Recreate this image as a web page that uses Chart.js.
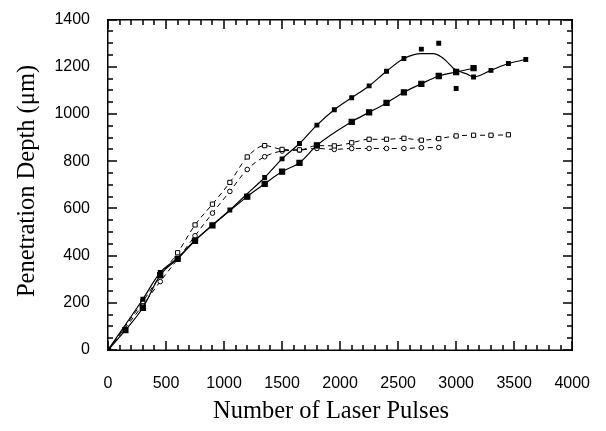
<!DOCTYPE html>
<html><head><meta charset="utf-8">
<script src="https://cdn.jsdelivr.net/npm/chart.js@4"></script>
<style>html,body{margin:0;padding:0;background:#fff}#wrap{width:606px;height:431px;position:relative}</style>
</head><body><div id="wrap"><canvas id="c" width="606" height="431"></canvas></div>
<script>
// ---- text ----
const xTitle = 'Number of Laser Pulses';
const yTitle = 'Penetration Depth (μm)';
// ---- tick labels ----
const xTickValues = [0, 500, 1000, 1500, 2000, 2500, 3000, 3500, 4000];
const yTickValues = [0, 200, 400, 600, 800, 1000, 1200, 1400];
// minor tick mark steps (axis units)
const xMinorStep = 100;
const yMinorStep = 50;

// ---- series A: solid line, small filled squares (measured points) ----
const upperX = [0, 300, 450, 1050, 1350, 1500, 1650, 1800, 1950, 2100, 2250, 2400, 2550, 2700, 2850, 3000, 3150, 3300, 3450, 3600];
const upperY = [0, 215, 329, 593, 731, 810, 875, 953, 1018, 1069, 1119, 1181, 1235, 1275, 1300, 1108, 1157, 1185, 1214, 1231];
// fitted curve through series A as traced in the picture
const upperFitX = [0, 300, 450, 600, 750, 900, 1050, 1200, 1350, 1500, 1650, 1800, 1950, 2100, 2250, 2400, 2550, 2700, 2800, 2870, 2920, 2975, 3030, 3090, 3150, 3300, 3450, 3600];
const upperFitY = [0, 215, 329, 390, 465, 530, 593, 662, 731, 810, 875, 953, 1018, 1069, 1119, 1181, 1235, 1256, 1256, 1243, 1222, 1194, 1180, 1170, 1157, 1185, 1214, 1231];

// ---- series B: solid line, large filled squares ----
const lowerX = [0, 150, 300, 450, 600, 750, 900, 1200, 1350, 1500, 1650, 1800, 2100, 2250, 2400, 2550, 2700, 2850, 3000, 3150];
const lowerY = [0, 84, 179, 317, 386, 463, 528, 650, 704, 756, 793, 867, 967, 1007, 1047, 1092, 1128, 1161, 1178, 1194];

// ---- series C: dashed line, open squares ----
const dashSqX = [0, 300, 450, 600, 750, 900, 1050, 1200, 1350, 1500, 1650, 1800, 1950, 2100, 2250, 2400, 2550, 2700, 2850, 3000, 3150, 3300, 3450];
const dashSqY = [0, 205, 315, 412, 530, 618, 710, 818, 866, 850, 848, 866, 865, 878, 893, 893, 897, 889, 896, 907, 910, 910, 912];

// ---- series D: dashed line, open circles ----
const dashCiX = [0, 300, 450, 600, 750, 900, 1050, 1200, 1350, 1500, 1650, 1800, 1950, 2100, 2250, 2400, 2550, 2700, 2850];
const dashCiY = [0, 190, 290, 385, 484, 580, 672, 765, 819, 843, 847, 854, 850, 854, 854, 854, 854, 857, 858];

const pts = (xs, ys) => xs.map((x, i) => ({x: x, y: ys[i]}));

const frame = {
  id: 'frame',
  afterDraw(chart) {
    const ctx = chart.ctx, a = chart.chartArea;
    const xs = chart.scales.x, ys = chart.scales.y;
    const l = Math.round(a.left), r = Math.round(a.right), t = Math.round(a.top), b = Math.round(a.bottom);
    ctx.save();
    ctx.setLineDash([]);
    ctx.fillStyle = '#000';
    // frame
    ctx.fillRect(l - 1, t - 1, r - l + 2, 1.5);
    ctx.fillRect(l - 1, b - 0.5, r - l + 2, 1.5);
    ctx.fillRect(l - 1, t - 1, 1.5, b - t + 2);
    ctx.fillRect(r - 0.5, t - 1, 1.5, b - t + 2);
    // inward tick marks on all four sides
    for (let v = 0; v <= 4000; v += xMinorStep) {
      const px = Math.round(xs.getPixelForValue(v));
      const len = (v % 500 === 0) ? 9 : 5;
      ctx.fillRect(px - 0.75, b - len, 1.5, len);
      ctx.fillRect(px - 0.75, t, 1.5, len);
    }
    for (let v = 0; v <= 1400; v += yMinorStep) {
      const py = Math.round(ys.getPixelForValue(v));
      const len = (v % 200 === 0) ? 9 : 5;
      ctx.fillRect(l, py - 0.75, len, 1.5);
      ctx.fillRect(r - len, py - 0.75, len, 1.5);
    }
    // axis titles
    ctx.font = '24.5px "Liberation Serif", "Times New Roman", serif';
    ctx.textAlign = 'center';
    ctx.textBaseline = 'alphabetic';
    ctx.fillText(xTitle, 331, 418);
    ctx.translate(34, 181);
    ctx.rotate(-Math.PI / 2);
    ctx.fillText(yTitle, 0, 0);
    ctx.restore();
  }
};

const base = {borderColor: '#000', borderWidth: 1.2, pointBorderColor: '#000', cubicInterpolationMode: 'monotone'};
const plain = v => String(v);

new Chart(document.getElementById('c'), {
  type: 'scatter',
  data: {
    datasets: [
      Object.assign({}, base, {label: 'A fit', data: pts(upperFitX, upperFitY), showLine: true, pointRadius: 0}),
      Object.assign({}, base, {label: 'A', data: pts(upperX, upperY), showLine: false, pointStyle: 'rect', pointRadius: 2.6, pointBackgroundColor: '#000'}),
      Object.assign({}, base, {label: 'B', data: pts(lowerX, lowerY), showLine: true, pointStyle: 'rect', pointRadius: 3.6, pointBackgroundColor: '#000'}),
      Object.assign({}, base, {label: 'C', data: pts(dashSqX, dashSqY), showLine: true, borderDash: [5, 4], borderWidth: 1, pointStyle: 'rect', pointRadius: 3, pointBorderWidth: 1, pointBackgroundColor: '#fff'}),
      Object.assign({}, base, {label: 'D', data: pts(dashCiX, dashCiY), showLine: true, borderDash: [5, 4], borderWidth: 1, pointStyle: 'circle', pointRadius: 2.3, pointBorderWidth: 1, pointBackgroundColor: '#fff'})
    ]
  },
  options: {
    responsive: false,
    animation: false,
    layout: {padding: {left: 0, right: 23, top: 13, bottom: 0}},
    plugins: {legend: {display: false}, tooltip: {enabled: false}},
    scales: {
      x: {
        type: 'linear', min: 0, max: 4000,
        afterBuildTicks: s => { s.ticks = xTickValues.map(v => ({value: v})); },
        afterFit: s => { s.height = 81; },
        grid: {display: false}, border: {display: false},
        ticks: {color: '#000', padding: 16, maxRotation: 0, callback: plain, font: {family: '"Liberation Sans", Arial, sans-serif', size: 16}}
      },
      y: {
        type: 'linear', min: 0, max: 1400,
        afterBuildTicks: s => { s.ticks = yTickValues.map(v => ({value: v})); },
        afterFit: s => { s.width = 108; },
        grid: {display: false}, border: {display: false},
        ticks: {color: '#000', padding: 10, callback: plain, font: {family: '"Liberation Sans", Arial, sans-serif', size: 16}}
      }
    }
  },
  plugins: [frame]
});
</script>
</body></html>
